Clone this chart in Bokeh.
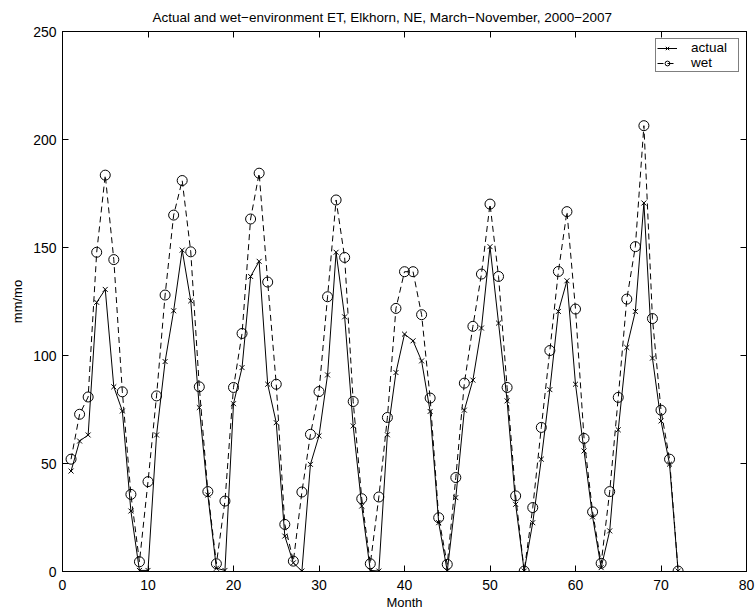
from bokeh.plotting import figure
from bokeh.models import Range1d, LinearAxis, FixedTicker, Legend, LegendItem
from bokeh.embed import file_html
from bokeh.resources import INLINE

months = list(range(1, 73))
actual = [
    46.5, 60.4, 63.2, 124.6, 130.6, 85.5, 74.3, 28.0, 0.5,
    0.5, 63.2, 97.2, 120.7, 148.8, 125.3, 75.9, 35.4, 1.5,
    0.5, 77.7, 94.4, 136.6, 143.6, 86.7, 68.9, 16.4, 4.0,
    0.2, 49.6, 62.8, 91.0, 147.8, 117.9, 67.4, 30.3, 0.5,
    0.2, 63.3, 92.1, 109.9, 106.8, 97.5, 74.1, 22.6, 0.2,
    34.2, 74.7, 88.6, 112.7, 150.4, 115.0, 79.0, 31.1, 0.2,
    22.6, 52.0, 84.2, 120.4, 134.6, 86.7, 55.8, 25.3, 1.8,
    18.8, 65.6, 103.7, 120.4, 170.6, 98.8, 69.7, 49.7, 0.2,
]
wet = [
    52.0, 72.8, 80.8, 147.8, 183.5, 144.4, 83.2, 35.7, 4.5,
    41.6, 81.3, 128.0, 165.0, 181.0, 148.0, 85.5, 37.0, 3.6,
    32.6, 85.2, 110.2, 163.2, 184.4, 134.0, 86.7, 21.8, 4.8,
    36.8, 63.5, 83.3, 127.2, 172.0, 145.4, 78.7, 33.7, 3.6,
    34.5, 71.3, 121.8, 138.8, 138.8, 118.9, 80.3, 24.9, 3.3,
    43.5, 87.2, 113.5, 137.7, 170.1, 136.6, 85.2, 35.0, 0.2,
    29.6, 66.7, 102.3, 138.9, 166.6, 121.5, 61.6, 27.6, 3.8,
    37.0, 80.6, 126.1, 150.4, 206.4, 117.1, 74.7, 52.0, 0.2,
]
x_ticks = [0, 10, 20, 30, 40, 50, 60, 70, 80]
y_ticks = [0, 50, 100, 150, 200, 250]

FONT = "Liberation Sans"

p = figure(frame_width=684, frame_height=540, output_backend="svg", toolbar_location=None,
           x_range=Range1d(0, 80), y_range=Range1d(0, 250),
           title="Actual and wet\u2212environment ET, Elkhorn, NE, March\u2212November, 2000\u22122007",
           min_border_left=62, min_border_right=9, min_border_top=31, min_border_bottom=39)
p.title.align = "left"
p.title.offset = 90
p.title.vertical_align = "top"
p.title.text_line_height = 0.5
p.title.text_font = FONT
p.title.text_font_size = "13.5px"
p.title.text_font_style = "normal"
p.title.text_color = "black"
p.title.standoff = 10
p.grid.visible = False
p.outline_line_color = "black"
p.outline_line_width = 1
p.background_fill_color = "white"
p.border_fill_color = "white"


def style_axis(ax, ticks, labels=True):
    ax.ticker = FixedTicker(ticks=ticks)
    ax.major_tick_in = 6
    ax.major_tick_out = 0
    ax.minor_tick_in = 0
    ax.minor_tick_out = 0
    ax.axis_line_color = "black"
    ax.major_tick_line_color = "black"
    ax.major_label_text_font = FONT
    ax.major_label_text_font_size = "14px"
    ax.major_label_text_color = "black"
    ax.major_label_standoff = 6
    ax.axis_label_text_font = FONT
    ax.axis_label_text_font_size = "13px"
    ax.axis_label_text_font_style = "normal"
    ax.axis_label_text_color = "black"
    ax.axis_label_standoff = 5
    if not labels:
        ax.major_label_overrides = {t: "" for t in ticks}
        ax.major_label_standoff = 0


p.xaxis.axis_label = "Month"
p.yaxis.axis_label = "mm/mo"
top = LinearAxis()
right = LinearAxis()
p.add_layout(top, "above")
p.add_layout(right, "right")
for ax in p.below:
    style_axis(ax, x_ticks)
    ax.major_label_standoff = 8
    ax.axis_label_standoff = 2
for ax in p.left:
    style_axis(ax, y_ticks)
style_axis(top, x_ticks, labels=False)
style_axis(right, y_ticks, labels=False)

la = p.line(months, actual, line_color="black", line_width=1)
sa = p.scatter(months, actual, marker="x", size=7, line_color="black", line_width=1)
lw = p.line(months, wet, line_color="black", line_width=1, line_dash="6 4")
sw = p.scatter(months, wet, marker="circle", size=10, line_color="black",
               fill_color=None, line_width=1)

legend = Legend(items=[LegendItem(label="actual", renderers=[la, sa]),
                       LegendItem(label="wet", renderers=[lw, sw])],
                location="top_right")
legend.label_text_font = FONT
legend.label_text_font_size = "13.5px"
legend.label_text_color = "black"
legend.border_line_color = "black"
legend.border_line_width = 1
legend.background_fill_color = "white"
legend.background_fill_alpha = 1
legend.glyph_width = 20
legend.glyph_height = 12
legend.label_height = 12
legend.label_width = 46
legend.spacing = 0
legend.padding = 1
legend.margin = 7
legend.label_standoff = 14
p.add_layout(legend, "center")

open("out.html", "w").write(file_html(p, INLINE))
